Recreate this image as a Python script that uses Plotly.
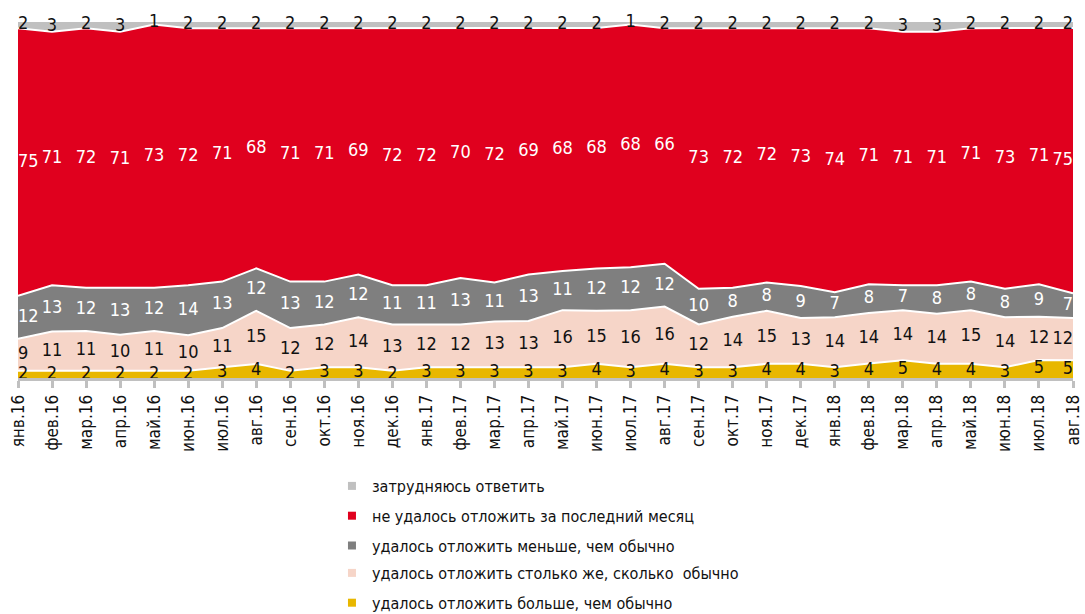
import plotly.graph_objects as go

months = ["янв.16","фев.16","мар.16","апр.16","май.16","июн.16","июл.16","авг.16","сен.16","окт.16","ноя.16","дек.16",
          "янв.17","фев.17","мар.17","апр.17","май.17","июн.17","июл.17","авг.17","сен.17","окт.17","ноя.17","дек.17",
          "янв.18","фев.18","мар.18","апр.18","май.18","июн.18","июл.18","авг.18"]

more = [2,2,2,2,2,2,3,4,2,3,3,2,3,3,3,3, 3,4,3,4,3,3,4,4,3,4,5,4,4,3,5,5]
same = [9,11,11,10,11,10,11,15,12,12,14,13,12,12,13,13, 16,15,16,16,12,14,15,13,14,14,14,14,15,14,12,12]
less = [12,13,12,13,12,14,13,12,13,12,12,11,11,13,11,13, 11,12,12,12,10,8,8,9,7,8,7,8,8,8,9,7]
none = [75,71,72,71,73,72,71,68,71,71,69,72,72,70,72,69, 68,68,68,66,73,72,72,73,74,71,71,71,71,73,71,75]
dk = [2,3,2,3,1,2,2,2,2,2,2,2,2,2,2,2, 2,2,1,2,2,2,2,2,2,2,3,3,2,2,2,2]

series = [
    ("удалось отложить больше, чем обычно", more, "#E8B700", "#111111"),
    ("удалось отложить столько же, сколько  обычно", same, "#F6D5C8", "#111111"),
    ("удалось отложить меньше, чем обычно", less, "#7F7F7F", "#FFFFFF"),
    ("не удалось отложить за последний месяц", none, "#E0001E", "#FFFFFF"),
    ("затрудняюсь ответить", dk, "#C0C0C0", "#111111"),
]

FONT = "Liberation Sans Narrow, DejaVu Sans Condensed, Roboto Condensed, Noto Sans, sans-serif"
x = list(range(len(months)))
n = len(x)
totals = [sum(s[1][i] for s in series) for i in x]
positions = ["middle right"] + ["middle center"] * (n - 2) + ["middle left"]

fig = go.Figure()
for gi, (name, vals, color, tcol) in enumerate(series):
    fig.add_trace(go.Scatter(
        x=x, y=vals, name=name, mode="lines", stackgroup="one", groupnorm="percent",
        line=dict(color="white", width=2), fillcolor=color, showlegend=False,
        hoverinfo="skip",
    ))

# labels at band centers (normalized)
cum = [0.0] * n
for name, vals, color, tcol in series:
    ys = []
    for i in x:
        v = vals[i] / totals[i] * 100
        ys.append(cum[i] + v / 2)
        cum[i] += v
    fig.add_trace(go.Scatter(
        x=x, y=ys, mode="text", text=[str(v) for v in vals], showlegend=False,
        textposition=positions, cliponaxis=False,
        textfont=dict(family=FONT, size=18, color=tcol), hoverinfo="skip",
    ))

# legend entries (small square markers), top item first; split in two legends to fit
rev = list(reversed(series))
for gi, (name, vals, color, tcol) in enumerate(rev):
    fig.add_trace(go.Scatter(
        x=[None], y=[None], mode="markers", name=name, legendgroup=f"g{gi}",
        legend="legend" if gi < 3 else "legend2",
        marker=dict(symbol="square", size=8, color=color),
    ))

leg_common = dict(xref="paper", yref="container", xanchor="left", yanchor="top",
                  traceorder="grouped", font=dict(family=FONT, size=16, color="#111111"),
                  tracegroupgap=6, itemwidth=30, bgcolor="rgba(0,0,0,0)")

fig.update_layout(
    width=1085, height=614,
    margin=dict(l=18, r=12, t=21, b=236, autoexpand=False),
    paper_bgcolor="white", plot_bgcolor="white",
    showlegend=True,
    legend=dict(x=0.2976, y=1 - 469 / 614, **leg_common),
    legend2=dict(x=0.2976, y=1 - 556 / 614, **leg_common),
    font=dict(family=FONT),
)
fig.update_xaxes(range=[0, n - 1], tickvals=x, ticktext=months, tickangle=-90,
                 showgrid=False, zeroline=False, showline=True, linecolor="#C0C0C0", linewidth=3,
                 ticks="outside", tickcolor="#C0C0C0", ticklen=7, tickwidth=3,
                 ticklabeloverflow="allow",
                 tickfont=dict(family=FONT, size=17, color="#111111"))
fig.update_yaxes(range=[0, 100], visible=False, showgrid=False)

fig.write_html("out.html", config={"displayModeBar": False},
               post_script="document.body.style.margin='0';document.body.style.overflow='hidden';")
